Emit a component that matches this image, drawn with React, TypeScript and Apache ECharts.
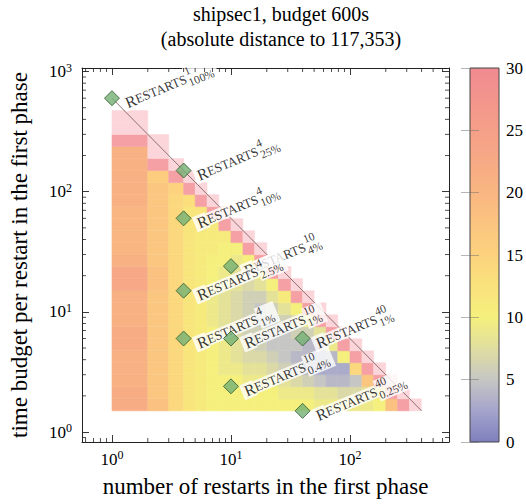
import React, { useEffect, useRef } from 'react';
import * as echarts from 'echarts';

const FONT = 'Liberation Serif, DejaVu Serif, serif';

// heat-map cell edges (restarts on x, per-restart budget in seconds on y)
const X_EDGES = [1, 2, 3, 4, 5, 6.3, 7.9, 10, 12.6, 15.8, 20, 25, 32, 40, 50, 63, 79, 100, 126, 158, 200, 251, 316, 398];
const Y_EDGES = [1.5, 1.89, 2.38, 3, 3.77, 4.74, 5.97, 7.52, 9.46, 11.9, 15, 18.9, 23.8, 29.9, 37.7, 47.4, 59.7, 75.2, 94.6, 119, 150, 189, 238, 299, 377, 474];

// cell values per column, bottom -> top (31 / 32 = beyond the colour range: edge cells)
const HEAT_COLUMNS: number[][] = [
  [22, 22, 21, 21, 21, 22, 22, 21, 21, 21, 23, 23, 21, 20, 20, 20, 20, 21, 21, 21, 21, 21, 31, 32, 32],
  [18, 17, 17, 17, 17, 17, 17, 17, 17, 17, 18, 18, 17, 17, 17, 17, 17, 17, 17, 16, 31, 32, 32],
  [14, 14, 14, 14, 14, 14, 14, 14, 14, 14, 14, 14, 14, 14, 14, 14, 14, 14, 15, 31, 32],
  [12, 12, 12, 12, 12, 12, 12, 12, 12, 12, 12, 12, 12, 12, 12, 12, 12, 13, 31, 32],
  [11, 11, 11, 11, 11, 11, 11, 11, 11, 11, 11, 11, 11, 11, 11, 12, 12, 31, 32],
  [10, 10, 10, 10, 10, 10, 10, 9, 9, 9, 10, 10, 10, 11, 11, 11, 31, 32],
  [10, 10, 10, 9, 9, 9, 8, 8, 8, 8, 9, 9, 10, 10, 11, 31, 32],
  [10, 10, 10, 9, 8, 8, 7, 7, 7, 7, 8, 8, 9, 10, 31, 32],
  [10, 10, 9, 8, 7, 7, 6, 6, 6, 6, 7, 9, 10, 31, 32],
  [10, 10, 9, 8, 7, 6, 6, 5, 5, 6, 8, 10, 31, 32],
  [10, 10, 9, 7, 6, 5, 5, 5, 6, 8, 10, 31, 32],
  [10, 9, 8, 6, 5, 5, 5, 6, 8, 11, 31, 32],
  [10, 9, 7, 5, 4, 5, 6, 7, 10, 31, 32],
  [10, 9, 6, 4, 4, 4, 6, 9, 31, 32],
  [9, 8, 5, 3, 3, 4, 8, 31, 32],
  [9, 8, 4, 3, 4, 9, 31, 32],
  [9, 7, 4, 3, 10, 31, 32],
  [9, 7, 5, 14, 31, 32],
  [9, 8, 17, 31, 32],
  [10, 12, 31, 32],
  [18, 31, 32],
  [31, 32],
  [32],
];

// budget boundary line (restarts x time = 600 s)
const BOUND_X = [1, 400];
const BOUND_Y = [600, 1.5];

// marked configurations
const MARK_X = [1, 4, 4, 10, 4, 4, 10, 40, 10, 40];
const MARK_Y = [600, 150, 60, 24, 15, 6, 6, 6, 2.4, 1.5];
const MARK_SUP = ['1', '4', '4', '10', '4', '4', '10', '40', '10', '40'];
const MARK_SUB = ['100%', '25%', '10%', '4%', '2.5%', '1%', '1%', '1%', '0.4%', '0.25%'];

// minor tick positions
const X_MINOR = [0.6, 0.7, 0.8, 0.9, 2, 3, 4, 5, 6, 7, 8, 9, 20, 30, 40, 50, 60, 70, 80, 90, 200, 300, 400, 500, 600];
const Y_MINOR = [0.9, 2, 3, 4, 5, 6, 7, 8, 9, 20, 30, 40, 50, 60, 70, 80, 90, 200, 300, 400, 500, 600, 700, 800, 900];

// colour map, evenly spaced over 0..30
const CMAP = ['#7f7fbd', '#a4a4cc', '#c6c6c4', '#e0dea0', '#f5f07d', '#f9e27c', '#fcd27e', '#fbc480', '#f9b682', '#f7aa85', '#f59f89', '#f3958c', '#f08a91'];
const EDGE_COLORS: Record<number, string> = { 31: '#f4a0a5', 32: '#fbd5d9' };
const AXIS_COLOR = '#222';

const X_MIN = 0.56, X_MAX = 680, Y_MIN = 0.826, Y_MAX = 1070;

const powLabel = (v: number) => {
  const l = Math.log10(v);
  const e = Math.round(l);
  if (Math.abs(l - e) > 1e-6) return '';
  return `{b|10}{e|${e}}`;
};
const powRich = {
  b: { fontFamily: FONT, fontSize: 17, color: '#000', lineHeight: 20 },
  e: { fontFamily: FONT, fontSize: 12, color: '#000', lineHeight: 12, verticalAlign: 'top' },
};

const LABEL_ROT = 22.5;
const R_SIZE = 16, CAPS_SIZE = 13, IDX_SIZE = 11.5, BOX_H = 18;

export default function App() {
  const ref = useRef<HTMLDivElement>(null);
  useEffect(() => {
    const chart = echarts.init(ref.current!, null, { renderer: 'svg' });

    const heatData: number[][] = [];
    HEAT_COLUMNS.forEach((col, i) =>
      col.forEach((v, j) => heatData.push([X_EDGES[i], X_EDGES[i + 1], Y_EDGES[j], Y_EDGES[j + 1], v]))
    );
    const marks = MARK_X.map((x, k) => [x, MARK_Y[k]]);

    const logX = (pos: string, labels: boolean) => ({
      type: 'log', gridIndex: 0, position: pos, min: X_MIN, max: X_MAX,
      axisLine: { show: true, lineStyle: { color: AXIS_COLOR, width: 1 } },
      axisTick: { show: true, inside: true, length: 7, lineStyle: { color: AXIS_COLOR, width: 0.9 } },
      splitLine: { show: false },
      axisLabel: labels ? { show: true, formatter: powLabel, rich: powRich, margin: 7, showMinLabel: false, showMaxLabel: false } : { show: false },
      ...(labels ? {
        name: 'number of restarts in the first phase', nameLocation: 'middle', nameGap: 33,
        nameTextStyle: { fontFamily: FONT, fontSize: 23, color: '#000' },
      } : {}),
    });
    const logY = (pos: string, labels: boolean) => ({
      type: 'log', gridIndex: 0, position: pos, min: Y_MIN, max: Y_MAX,
      axisLine: { show: true, lineStyle: { color: AXIS_COLOR, width: 1 } },
      axisTick: { show: true, inside: true, length: 7, lineStyle: { color: AXIS_COLOR, width: 0.9 } },
      splitLine: { show: false },
      axisLabel: labels ? { show: true, formatter: powLabel, rich: powRich, margin: 10, showMinLabel: false, showMaxLabel: false } : { show: false },
      ...(labels ? {
        name: 'time budget per restart in the first phase', nameLocation: 'middle', nameGap: 51, nameRotate: 90,
        nameTextStyle: { fontFamily: FONT, fontSize: 23, color: '#000' },
      } : {}),
    });

    const titleStyle = { fontFamily: FONT, fontSize: 20, fontWeight: 'normal', color: '#000' };
    const txt = (size: number, extra: any = {}) => ({ fontFamily: FONT, fontSize: size, fontWeight: 'normal', ...extra });

    const option: any = {
      animation: false,
      backgroundColor: '#fff',
      textStyle: { fontFamily: FONT, fontWeight: 'normal' },
      title: [
        { text: 'shipsec1, budget 600s', left: 281, top: 4, textAlign: 'center', padding: 0, textStyle: titleStyle },
        { text: '(absolute distance to 117,353)', left: 281, top: 29, textAlign: 'center', padding: 0, textStyle: titleStyle },
      ],
      grid: [
        { left: 79, top: 68, width: 370, height: 374 },
        { left: 470, top: 68, width: 29, height: 374 },
      ],
      xAxis: [
        logX('bottom', true),
        logX('top', false),
        { type: 'value', gridIndex: 1, min: 0, max: 1, show: false },
      ],
      yAxis: [
        logY('left', true),
        logY('right', false),
        {
          type: 'value', gridIndex: 1, position: 'right', min: 0, max: 30, interval: 5, z: 10,
          axisLine: { show: false },
          axisTick: { show: true, inside: true, length: 9, lineStyle: { color: 'rgba(110,110,110,0.5)' } },
          axisLabel: { show: true, margin: 7, fontFamily: FONT, fontSize: 17, color: '#000' },
          splitLine: { show: false },
        },
        {
          type: 'value', gridIndex: 1, position: 'left', min: 0, max: 30, interval: 5, z: 10,
          axisLine: { show: false },
          axisTick: { show: true, inside: true, length: 9, lineStyle: { color: 'rgba(110,110,110,0.5)' } },
          axisLabel: { show: false },
          splitLine: { show: false },
        },
      ],
      visualMap: {
        type: 'continuous', show: false, min: 0, max: 30, dimension: 4, seriesIndex: 0,
        inRange: { color: CMAP },
      },
      series: [
        {
          type: 'custom', name: 'heat', xAxisIndex: 0, yAxisIndex: 0, z: 1, silent: true,
          data: heatData, encode: { x: [0, 1], y: [2, 3] },
          renderItem: (params: any, api: any) => {
            const p0 = api.coord([api.value(0), api.value(3)]);
            const p1 = api.coord([api.value(1), api.value(2)]);
            const v = api.value(4);
            const fill = v > 30 ? EDGE_COLORS[v] : api.visual('color');
            return {
              type: 'rect',
              shape: { x: p0[0], y: p0[1], width: p1[0] - p0[0], height: p1[1] - p0[1] },
              style: { fill, stroke: fill, lineWidth: 0.5 },
            };
          },
        },
        {
          type: 'line', name: 'bound', xAxisIndex: 0, yAxisIndex: 0, z: 2, silent: true,
          data: BOUND_X.map((x, k) => [x, BOUND_Y[k]]),
          showSymbol: false, symbol: 'none',
          lineStyle: { color: '#8a7272', width: 1 },
        },
        {
          type: 'scatter', name: 'labels', xAxisIndex: 0, yAxisIndex: 0, z: 3, silent: true,
          data: marks, symbol: 'diamond', symbolSize: 15,
          itemStyle: { color: 'rgba(0,0,0,0)' },
          label: {
            show: true, position: 'right', distance: 1, rotate: LABEL_ROT, offset: [0, 7],
            ...txt(CAPS_SIZE), color: '#000',
            formatter: (p: any) => `{R|R}{s|ESTARTS}{sub|${MARK_SUB[p.dataIndex]}}`,
            rich: {
              R: txt(R_SIZE, { lineHeight: BOX_H, color: '#000', backgroundColor: '#fff', padding: [0, 0, 0, 3] }),
              s: txt(CAPS_SIZE, { lineHeight: BOX_H, color: '#000', backgroundColor: '#fff' }),
              sub: txt(IDX_SIZE, { lineHeight: 8, color: '#000', backgroundColor: '#fff', padding: [BOX_H - 8, 4, 0, 1] }),
            },
          },
        },
        {
          type: 'scatter', name: 'sup', xAxisIndex: 0, yAxisIndex: 0, z: 4, silent: true,
          data: marks, symbol: 'diamond', symbolSize: 15,
          itemStyle: { color: 'rgba(0,0,0,0)' },
          label: {
            show: true, position: 'right', distance: 1, rotate: LABEL_ROT, offset: [0, 0],
            ...txt(CAPS_SIZE), color: '#000',
            formatter: (p: any) => `{R|R}{s|ESTARTS}{sup|${MARK_SUP[p.dataIndex]}}`,
            rich: {
              R: txt(R_SIZE, { lineHeight: 12, color: 'rgba(0,0,0,0)', padding: [0, 0, 0, 3] }),
              s: txt(CAPS_SIZE, { lineHeight: 12, color: 'rgba(0,0,0,0)' }),
              sup: txt(IDX_SIZE, { lineHeight: 12, color: '#000', padding: [0, 0, 0, 1] }),
            },
          },
        },
        {
          type: 'scatter', name: 'marks', xAxisIndex: 0, yAxisIndex: 0, z: 5, silent: true,
          data: marks, symbol: 'diamond', symbolSize: 15,
          itemStyle: { color: '#74b074', borderColor: '#2e5a2e', borderWidth: 1 },
        },
        {
          type: 'custom', name: 'xminor', xAxisIndex: 0, yAxisIndex: 0, z: 6, silent: true,
          data: X_MINOR.map((v) => [v, 1]),
          renderItem: (params: any, api: any) => {
            const cs = params.coordSys;
            const px = api.coord([api.value(0), 1])[0];
            const b = cs.y + cs.height, t = cs.y;
            return {
              type: 'group', children: [
                { type: 'line', shape: { x1: px, y1: b, x2: px, y2: b - 4 }, style: { stroke: AXIS_COLOR, lineWidth: 0.8 } },
                { type: 'line', shape: { x1: px, y1: t, x2: px, y2: t + 4 }, style: { stroke: AXIS_COLOR, lineWidth: 0.8 } },
              ],
            };
          },
        },
        {
          type: 'custom', name: 'yminor', xAxisIndex: 0, yAxisIndex: 0, z: 6, silent: true,
          data: Y_MINOR.map((v) => [1, v]),
          renderItem: (params: any, api: any) => {
            const cs = params.coordSys;
            const py = api.coord([1, api.value(1)])[1];
            const l = cs.x, r = cs.x + cs.width;
            return {
              type: 'group', children: [
                { type: 'line', shape: { x1: l, y1: py, x2: l + 4, y2: py }, style: { stroke: AXIS_COLOR, lineWidth: 0.8 } },
                { type: 'line', shape: { x1: r, y1: py, x2: r - 4, y2: py }, style: { stroke: AXIS_COLOR, lineWidth: 0.8 } },
              ],
            };
          },
        },
        {
          type: 'custom', name: 'colorbar', xAxisIndex: 2, yAxisIndex: 2, z: 1, silent: true,
          data: [[0.5, 15]],
          renderItem: (params: any) => {
            const cs = params.coordSys;
            return {
              type: 'rect',
              shape: { x: cs.x, y: cs.y, width: cs.width, height: cs.height },
              style: {
                fill: {
                  type: 'linear', x: 0, y: 1, x2: 0, y2: 0,
                  colorStops: CMAP.map((c, i) => ({ offset: i / (CMAP.length - 1), color: c })),
                },
                stroke: '#444', lineWidth: 1,
              },
            };
          },
        },
      ],
    };
    chart.setOption(option);
    return () => chart.dispose();
  }, []);
  return <div ref={ref} style={{ position: 'fixed', left: 0, top: 0, width: 526, height: 504, background: '#fff' }} />;
}
